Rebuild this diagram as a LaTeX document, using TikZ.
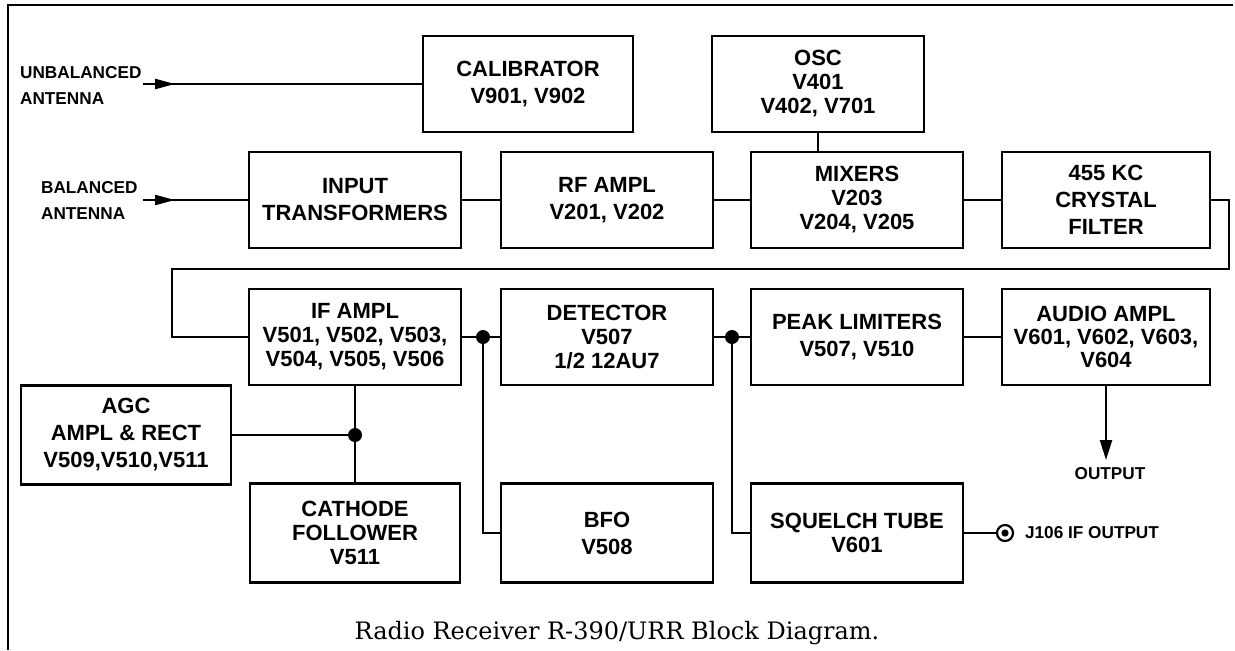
\documentclass[tikz,border=0pt]{standalone}
\usepackage{fontspec}
\setmainfont{Liberation Sans}
\newfontfamily\capfont{DejaVu Serif}
\usetikzlibrary{arrows.meta,decorations.markings}
\begin{document}
\begin{tikzpicture}[x=0.5pt,y=-0.5pt,
  line width=1.1pt, line join=miter,
  box/.style={draw, rectangle, inner sep=0pt, align=center,
    font=\bfseries\fontsize{11}{13.5}\selectfont,
    minimum width=106pt, minimum height=48pt},
  tight/.style={font=\bfseries\fontsize{11}{12}\selectfont},
  tighter/.style={font=\bfseries\fontsize{11}{11.5}\selectfont},
  ext/.style={font=\bfseries\fontsize{8.6}{13}\selectfont, inner sep=0pt},
  jdot/.style={circle, fill, inner sep=0pt, minimum size=7pt},
  antarrow/.style={postaction={decorate}, decoration={markings,
    mark=at position 16pt with {\arrow{Triangle[length=10pt,width=5pt]}}}},
]
\useasboundingbox (0,0) rectangle (1235,650);
% frame
\draw[line width=1.3pt] (8,650) -- (8,5) -- (1233,5);

% boxes
\node[box, minimum width=105pt] (calib) at (528,84) {CALIBRATOR\\V901, V902};
\node[box, tight] (osc) at (818,84) {OSC\\V401\\V402, V701};
\node[box] (inp) at (355,200) {INPUT\\TRANSFORMERS};
\node[box] (rf) at (607,200) {RF AMPL\\V201, V202};
\node[box, tight] (mix) at (857,200) {MIXERS\\V203\\V204, V205};
\node[box, minimum width=104pt] (xtal) at (1106,200) {455 KC\\CRYSTAL\\FILTER};
\node[box, tight] (ifa) at (355,337) {IF AMPL\\V501, V502, V503,\\V504, V505, V506};
\node[box, tight] (det) at (607,337) {DETECTOR\\V507\\1/2 12AU7};
\node[box] (peak) at (857,337) {PEAK LIMITERS\\V507, V510};
\node[box, tighter, minimum width=104pt] (aud) at (1106,337) {AUDIO AMPL\\V601, V602, V603,\\V604};
\node[box, minimum width=105pt, minimum height=49.5pt] (agc) at (126,435) {AGC\\AMPL \& RECT\\V509,V510,V511};
\node[box, tight, minimum width=105pt, minimum height=49.5pt] (cath) at (355,533) {CATHODE\\FOLLOWER\\V511};
\node[box, minimum height=49.5pt] (bfo) at (607,533) {BFO\\V508};
\node[box, tight, minimum height=49.5pt] (sq) at (857,533) {SQUELCH TUBE\\V601};

% antenna inputs
\node[ext, anchor=west, align=left] (ual) at (19,85) {UNBALANCED\\ANTENNA};
\node[ext, anchor=west, align=left] (bal) at (40,200) {BALANCED\\ANTENNA};
\coordinate (ua) at (143,84);
\coordinate (ba) at (143,200);
\draw[antarrow] (ua) -- (calib.west);
\draw[antarrow] (ba) -- (inp.west);

% first row
\draw (inp) -- (rf);
\draw (rf) -- (mix);
\draw (mix) -- (xtal);
\draw (osc.south) -- (osc.south |- mix.north);

% loop to IF
\coordinate (l1) at (1229,200);
\coordinate (l2) at (1229,269);
\coordinate (l3) at (172,269);
\coordinate (l4) at (172,337);
\draw (xtal.east) -- (l1) -- (l2) -- (l3) -- (l4) -- (ifa.west);

% second row
\draw (ifa) -- (det);
\draw (det) -- (peak);
\draw (peak) -- (aud);
\coordinate (d1) at (483,337);
\coordinate (d2) at (732,337);
\draw (d1) |- (bfo.west);
\draw (d2) |- (sq.west);
\node[jdot] (n1) at (d1) {};
\node[jdot] (n2) at (d2) {};

% AGC / cathode follower
\coordinate (d3) at (ifa.south |- agc.east);
\draw (ifa.south) -- (cath.north);
\draw (agc.east) -- (d3);
\node[jdot] (n3) at (d3) {};

% audio output
\coordinate (otip) at (1106,460);
\draw[-{Triangle[length=10pt,width=6pt]}] (aud.south) -- (otip);
\node[ext] (out) at (1110,474) {OUTPUT};

% J106 jack
\node[circle, draw, inner sep=0pt, minimum size=8pt] (jack) at (1005,533) {};
\fill (jack.center) circle (1.8pt);
\draw (sq.east) -- (jack.west);
\node[ext, anchor=west] (jl) at (1024,533) {J106 IF OUTPUT};

% caption
\node[font=\capfont\fontsize{12}{14}\selectfont, inner sep=0pt] (cap) at (617,633) {Radio Receiver R-390/URR Block Diagram.};
\end{tikzpicture}
\end{document}
